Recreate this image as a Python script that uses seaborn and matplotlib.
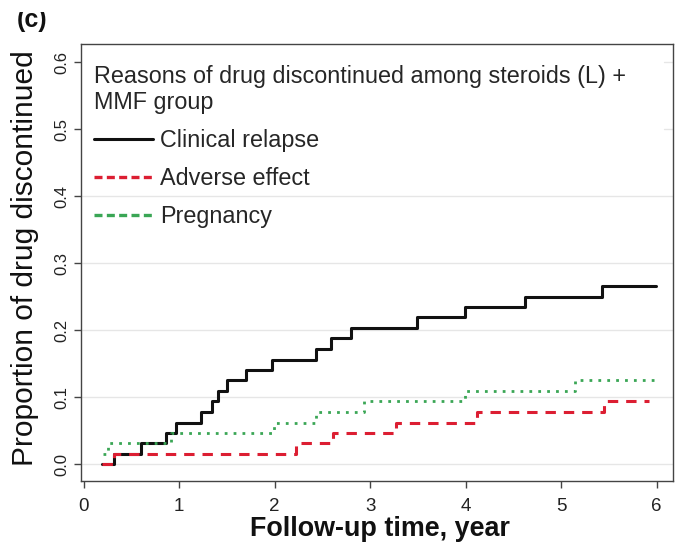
import matplotlib
matplotlib.use("Agg")
import matplotlib.pyplot as plt
from matplotlib.lines import Line2D
from matplotlib.patches import Rectangle
import seaborn as sns
import pandas as pd

# ---- data ----
relapse_t = [0.19, 0.32, 0.60, 0.86, 0.97, 1.23, 1.34, 1.41, 1.50, 1.70, 1.97,
             2.43, 2.59, 2.80, 3.49, 3.99, 4.62, 5.43, 5.99]
relapse_p = [0.000, 0.016, 0.031, 0.047, 0.062, 0.078, 0.094, 0.109, 0.125, 0.141,
             0.156, 0.172, 0.188, 0.203, 0.219, 0.234, 0.250, 0.266, 0.266]

adverse_t = [0.19, 0.32, 2.22, 2.61, 3.27, 4.12, 5.45, 5.92]
adverse_p = [0.000, 0.016, 0.031, 0.047, 0.062, 0.078, 0.094, 0.094]

pregnancy_t = [0.20, 0.26, 0.92, 1.99, 2.43, 2.94, 3.99, 5.14, 5.99]
pregnancy_p = [0.016, 0.031, 0.047, 0.062, 0.078, 0.094, 0.109, 0.125, 0.125]

series_labels = ["Clinical relapse", "Adverse effect", "Pregnancy"]
legend_title = "Reasons of drug discontinued among steroids (L) +\nMMF group"
x_ticks = [0, 1, 2, 3, 4, 5, 6]
y_ticks = [0.0, 0.1, 0.2, 0.3, 0.4, 0.5, 0.6]
y_ticklabels = ["0.0", "0.1", "0.2", "0.3", "0.4", "0.5", "0.6"]
x_label = "Follow-up time, year"
y_label = "Proportion of drug discontinued"
panel_tag = "(c)"

# ---- style ----
sns.set_theme(style="white")
plt.rcParams["font.family"] = ["Liberation Sans", "DejaVu Sans"]

BLACK = "#111111"
RED = "#DC1E32"
GREEN = "#3AA655"
GRID = "#E6E6E6"

W, H = 678, 544
fig = plt.figure(figsize=(6.78, 5.44), dpi=100)
ax = fig.add_axes([0.119, 0.1164, 0.8736, 0.8027])

df_rel = pd.DataFrame({"t": relapse_t, "p": relapse_p})
df_adv = pd.DataFrame({"t": adverse_t, "p": adverse_p})
df_preg = pd.DataFrame({"t": pregnancy_t, "p": pregnancy_p})

sns.lineplot(data=df_rel, x="t", y="p", ax=ax, estimator=None, color=BLACK,
             drawstyle="steps-post", linewidth=2.2, zorder=3)
sns.lineplot(data=df_adv, x="t", y="p", ax=ax, estimator=None, color=RED,
             drawstyle="steps-post", linewidth=2.2, linestyle=(0, (3.4, 2.6)), zorder=4)
sns.lineplot(data=df_preg, x="t", y="p", ax=ax, estimator=None, color=GREEN,
             drawstyle="steps-post", linewidth=2.0, linestyle=(0, (1.0, 2.2)), zorder=5)

ax.set_xlim(-0.03, 6.17)
ax.set_ylim(-0.0245, 0.627)
ax.set_xticks(x_ticks)
ax.set_xticklabels([str(v) for v in x_ticks])
ax.set_yticks(y_ticks)
ax.set_yticklabels(y_ticklabels)

# light horizontal reference lines; the upper ones are hidden behind the legend box
for yv in y_ticks:
    if yv <= 0.4:
        ax.axhline(yv, color=GRID, linewidth=1.0, zorder=0)
    else:
        ax.axhline(yv, xmin=0.985, xmax=1.0, color=GRID, linewidth=1.0, zorder=0)

for s in ax.spines.values():
    s.set_color("#444444")
    s.set_linewidth(1.0)

ax.tick_params(axis="both", which="major", direction="out", length=5, width=1.0,
               color="#444444", labelcolor="#222222", bottom=True, left=True)
ax.tick_params(axis="x", labelsize=13.5, pad=7.5)
ax.tick_params(axis="y", labelsize=12, pad=3, labelrotation=90)
for lab in ax.get_yticklabels():
    lab.set_va("center")

ax.set_xlabel(x_label, fontsize=19.4, fontweight="bold", color="#111111", va="baseline")
ax.xaxis.set_label_coords(0.505, -0.1266)
ax.set_ylabel(y_label, fontsize=21.5, color="#111111", va="center")
ax.yaxis.set_label_coords(-0.094, 0.51)

handles = [
    Line2D([], [], color=BLACK, linewidth=2.2),
    Line2D([], [], color=RED, linewidth=2.4, linestyle=(0, (2.4, 1.3))),
    Line2D([], [], color=GREEN, linewidth=2.4, linestyle=(0, (2.4, 1.3))),
]
leg = ax.legend(handles, series_labels, title=legend_title, loc="upper left",
                bbox_to_anchor=(0.022, 0.953), frameon=False, alignment="left",
                fontsize=16.8, title_fontsize=16.8, handlelength=2.55, handletextpad=0.3,
                labelspacing=0.64, borderpad=0, borderaxespad=0)
leg.get_title().set_linespacing(1.22)

fig.text(17 / W, 1 - 27 / H, panel_tag, fontsize=18, fontweight="bold",
         va="baseline", ha="left", color="#111111")
fig.patches.append(Rectangle((0, 1 - 12 / H), 0.2, 12 / H, transform=fig.transFigure,
                             facecolor="white", edgecolor="none", zorder=10))

fig.savefig("out.png", dpi=100)
